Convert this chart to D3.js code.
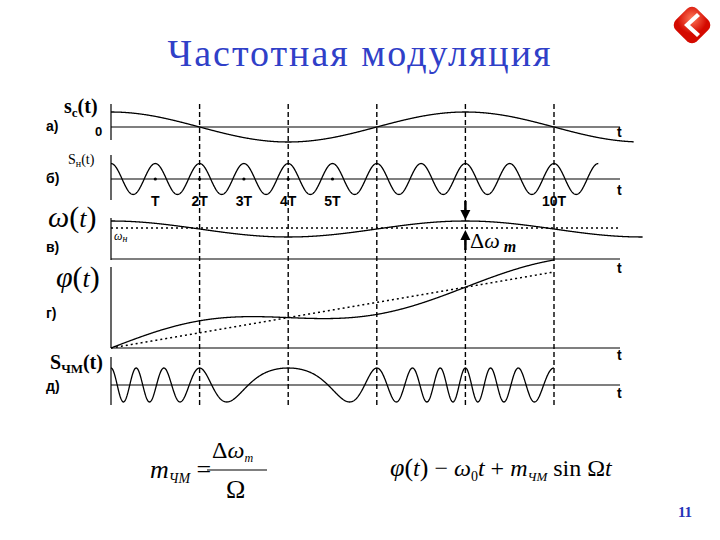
<!DOCTYPE html>
<html><head><meta charset="utf-8">
<script src="https://cdn.jsdelivr.net/npm/d3@7"></script>
<style>body{margin:0;background:#fff}</style>
</head><body>
<svg id="slide" width="720" height="540"></svg>
<script>
// time in units of carrier period T
var dashTimes = [2, 4, 6, 8, 10];
var periodLabels = [{t: 1, s: "T"}, {t: 2, s: "2T"}, {t: 3, s: "3T"}, {t: 4, s: "4T"}, {t: 5, s: "5T"}, {t: 10, s: "10T"}];
var carrierDots = [1, 2, 3, 4, 5];
var modPeriod = 8;        // modulating period, in T
var devIndex = 1;         // m_ЧМ / 2π, cycles
var panelBase = [127, 179, 259, 348, 385];
var panelEnd = [11.8, 11, 12, 10, 10];
var tAxisLabels = [132, 190, 268, 355, 393];
var letters = ["а)", "б)", "в)", "г)", "д)"];
var letterY = [131, 183, 252, 318, 391];

var svg = d3.select("#slide");
var x = d3.scaleLinear().domain([0, 12]).range([111, 642.6]);
var line = d3.line().x(function(d){return x(d[0]);}).y(function(d){return d[1];});
function sample(t0, t1, f){ return d3.range(t0, t1 + 1e-9, 0.01).map(function(t){return [t, f(t)];}); }
var W = 2 * Math.PI / modPeriod;

svg.append("text").attr("x", 360).attr("y", 66).attr("text-anchor", "middle")
  .attr("font-family", "Liberation Serif").attr("font-size", 38).attr("letter-spacing", 2).attr("fill", "#3040c8")
  .text("Частотная модуляция");
svg.append("text").attr("x", 685).attr("y", 517).attr("text-anchor", "middle")
  .attr("font-family", "Liberation Serif").attr("font-size", 15).attr("font-weight", "bold").attr("fill", "#2633b8").text("11");

// red icon
var icon = svg.append("g").attr("transform", "translate(692,25) rotate(45)");
var grad = svg.append("defs").append("radialGradient").attr("id", "rg").attr("cx", "35%").attr("cy", "35%");
grad.append("stop").attr("offset", "0%").attr("stop-color", "#ff7a5a");
grad.append("stop").attr("offset", "100%").attr("stop-color", "#d40a00");
icon.append("rect").attr("x", -15).attr("y", -15).attr("width", 30).attr("height", 30).attr("rx", 7).attr("fill", "url(#rg)");
svg.append("path").attr("d", "M697,13 L684,25 L697,37 L700,34 L690,25 L700,16 Z").attr("fill", "#fff");

var g = svg.append("g").attr("stroke", "#000").attr("fill", "none");
// horizontal axes
panelBase.forEach(function(y){ g.append("line").attr("x1", 111).attr("x2", 620).attr("y1", y).attr("y2", y).attr("stroke-width", 1.2); });
// vertical axis segments
[[104, 140], [155, 200], [218, 260], [267, 348], [357, 405]].forEach(function(s){
  g.append("line").attr("x1", 111).attr("x2", 111).attr("y1", s[0]).attr("y2", s[1]).attr("stroke-width", 1.2);
});
// dashed verticals
dashTimes.forEach(function(t){
  g.append("line").attr("x1", x(t)).attr("x2", x(t)).attr("y1", 104).attr("y2", 406)
    .attr("stroke-width", 1.4).attr("stroke-dasharray", "5,3");
});

// а) modulating signal
g.append("path").attr("stroke-width", 1.3).attr("d", line(sample(0, panelEnd[0], function(t){ return 127 - 15 * Math.cos(W * t); })));
// б) carrier
g.append("path").attr("stroke-width", 1.3).attr("d", line(sample(0, panelEnd[1], function(t){ return 179 - 15.5 * Math.cos(2 * Math.PI * t); })));
carrierDots.forEach(function(t){ svg.append("circle").attr("cx", x(t)).attr("cy", 179).attr("r", 1.6); });
// в) frequency
g.append("line").attr("x1", 111).attr("x2", 620).attr("y1", 228).attr("y2", 228).attr("stroke-dasharray", "2,3").attr("stroke-width", 1.5);
g.append("path").attr("stroke-width", 1.3).attr("d", line(sample(0, panelEnd[2], function(t){ return 229 - 8 * Math.cos(W * t); })));
// г) phase
var slope = (348 - 272) / 10, A = 12;
g.append("path").attr("stroke-width", 1.5).attr("stroke-dasharray", "2,3").attr("d", line(sample(0, 10, function(t){ return 348 - slope * t; })));
g.append("path").attr("stroke-width", 1.3).attr("d", line(sample(0, 10, function(t){ return 348 - slope * t - A * Math.sin(W * t); })));
// д) FM signal
g.append("path").attr("stroke-width", 1.3).attr("d", line(sample(0, panelEnd[4], function(t){
  return 385 - 17 * Math.cos(2 * Math.PI * (t + devIndex * Math.sin(W * t)));
})));

// arrows Δω
svg.append("line").attr("x1", x(8)).attr("x2", x(8)).attr("y1", 201).attr("y2", 212).attr("stroke", "#000").attr("stroke-width", 2.5);
svg.append("path").attr("d", "M" + (x(8) - 5) + ",210 L" + (x(8) + 5) + ",210 L" + x(8) + ",220 Z");
svg.append("line").attr("x1", x(8)).attr("x2", x(8)).attr("y1", 238).attr("y2", 250).attr("stroke", "#000").attr("stroke-width", 2.5);
svg.append("path").attr("d", "M" + (x(8) - 5) + ",240 L" + (x(8) + 5) + ",240 L" + x(8) + ",230 Z");
var dw = svg.append("text").attr("x", 470).attr("y", 248).attr("font-family", "Liberation Serif").attr("font-size", 22);
dw.append("tspan").text("Δ");
dw.append("tspan").attr("font-style", "italic").text("ω");
dw.append("tspan").attr("font-style", "italic").attr("font-weight", "bold").attr("font-size", 16).attr("dy", 4).text(" m");

// labels
var sans = "Liberation Sans";
letters.forEach(function(s, i){
  svg.append("text").attr("x", 46).attr("y", letterY[i]).attr("font-family", sans).attr("font-weight", "bold").attr("font-size", 14).text(s);
});
tAxisLabels.forEach(function(y){
  svg.append("text").attr("x", 617).attr("y", y + 5).attr("font-family", sans).attr("font-weight", "bold").attr("font-size", 14).text("t");
});
periodLabels.forEach(function(d){
  svg.append("text").attr("x", x(d.t)).attr("y", 206).attr("text-anchor", "middle").attr("font-family", sans).attr("font-weight", "bold").attr("font-size", 14).text(d.s);
});
svg.append("text").attr("x", 95).attr("y", 136).attr("font-family", sans).attr("font-weight", "bold").attr("font-size", 13).text("0");

function lbl(xx, y, parts){
  var t = svg.append("text").attr("x", xx).attr("y", y).attr("font-family", "Liberation Serif");
  parts.forEach(function(p){
    var s = t.append("tspan").text(p.s).attr("font-size", p.fs || 20);
    if (p.b) s.attr("font-weight", "bold");
    if (p.i) s.attr("font-style", "italic");
    if (p.dy) s.attr("dy", p.dy);
  });
  return t;
}
lbl(64, 113, [{s: "s", fs: 20, b: 1}, {s: "c", fs: 13, b: 1, dy: 4}, {s: "(t)", fs: 20, b: 1, dy: -4}]);
lbl(68, 164, [{s: "S", fs: 14}, {s: "н", fs: 10, dy: 3}, {s: "(t)", fs: 14, dy: -3}]);
lbl(48, 227, [{s: "ω", fs: 30, i: 1}, {s: "(", fs: 30}, {s: "t", fs: 26, i: 1}, {s: ")", fs: 30}]);
lbl(114, 240, [{s: "ω", fs: 12, i: 1}, {s: "н", fs: 10, i: 1, dy: 2}]);
lbl(56, 287, [{s: "φ", fs: 30, i: 1}, {s: "(", fs: 30}, {s: "t", fs: 26, i: 1}, {s: ")", fs: 30}]);
lbl(50, 369, [{s: "S", fs: 20, b: 1}, {s: "ЧМ", fs: 13, b: 1, dy: 4}, {s: "(t)", fs: 20, b: 1, dy: -4}]);

// formulas
lbl(150, 478, [{s: "m", fs: 26, i: 1}, {s: "ЧМ", fs: 14, i: 1, dy: 5}, {s: " =", fs: 26, dy: -5}]);
svg.append("line").attr("x1", 207).attr("x2", 267).attr("y1", 470).attr("y2", 470).attr("stroke", "#000").attr("stroke-width", 1.2);
lbl(212, 458, [{s: "Δ", fs: 24}, {s: "ω", fs: 24, i: 1}, {s: "m", fs: 12, i: 1, dy: 4}]);
lbl(226, 498, [{s: "Ω", fs: 26}]);
lbl(390, 476, [{s: "φ", fs: 26, i: 1}, {s: "(", fs: 26}, {s: "t", fs: 24, i: 1}, {s: ")", fs: 26}, {s: " − ", fs: 24},
  {s: "ω", fs: 24, i: 1}, {s: "0", fs: 14, dy: 5}, {s: "t", fs: 24, i: 1, dy: -5}, {s: " + ", fs: 24}, {s: "m", fs: 24, i: 1},
  {s: "ЧМ", fs: 13, i: 1, dy: 5}, {s: " sin Ω", fs: 24, dy: -5}, {s: "t", fs: 24, i: 1}]);
</script>
</body></html>
